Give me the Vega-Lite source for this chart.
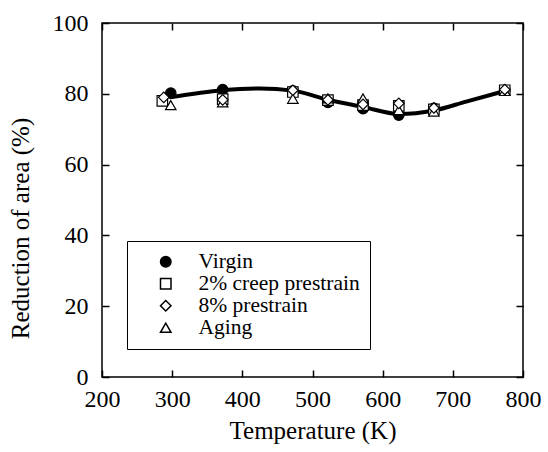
{
  "$schema": "https://vega.github.io/schema/vega-lite/v6.json",
  "width": 421,
  "height": 354,
  "autosize": "none",
  "padding": {"left": 102, "top": 23, "right": 25, "bottom": 75},
  "background": "white",
  "config": {
    "view": {"stroke": "black", "strokeWidth": 1.5},
    "font": "Liberation Serif",
    "axis": {
      "grid": false,
      "domain": false,
      "tickColor": "black",
      "tickSize": -7,
      "tickWidth": 1.5,
      "labelFlush": false,
      "labelFont": "Liberation Serif",
      "labelFontSize": 24,
      "labelColor": "black",
      "titleFont": "Liberation Serif",
      "titleFontSize": 25,
      "titleFontWeight": "normal",
      "titleColor": "black"
    },
    "legend": {
      "labelFont": "Liberation Serif",
      "labelFontSize": 21.5,
      "labelColor": "black",
      "labelLimit": 400
    }
  },
  "datasets": {
    "curve": [
      {"T": 297, "RA": 79.0},
      {"T": 372, "RA": 81.0},
      {"T": 425, "RA": 81.5},
      {"T": 472, "RA": 80.9},
      {"T": 522, "RA": 78.3},
      {"T": 572, "RA": 76.3},
      {"T": 623, "RA": 74.3},
      {"T": 673, "RA": 75.3},
      {"T": 719, "RA": 77.8},
      {"T": 774, "RA": 80.8}
    ],
    "points": [
      {"series": "Virgin", "T": 298, "RA": 80.2},
      {"series": "Virgin", "T": 372, "RA": 81.2},
      {"series": "Virgin", "T": 472, "RA": 80.8},
      {"series": "Virgin", "T": 522, "RA": 77.6},
      {"series": "Virgin", "T": 572, "RA": 75.8},
      {"series": "Virgin", "T": 623, "RA": 74.0},
      {"series": "Virgin", "T": 673, "RA": 75.9},
      {"series": "Virgin", "T": 774, "RA": 81.0},
      {"series": "2% creep prestrain", "T": 286, "RA": 78.0},
      {"series": "2% creep prestrain", "T": 372, "RA": 78.5},
      {"series": "2% creep prestrain", "T": 472, "RA": 80.5},
      {"series": "2% creep prestrain", "T": 522, "RA": 78.2},
      {"series": "2% creep prestrain", "T": 572, "RA": 76.8},
      {"series": "2% creep prestrain", "T": 623, "RA": 76.6},
      {"series": "2% creep prestrain", "T": 673, "RA": 75.6},
      {"series": "2% creep prestrain", "T": 774, "RA": 81.0},
      {"series": "Aging", "T": 298, "RA": 76.8},
      {"series": "Aging", "T": 372, "RA": 77.6},
      {"series": "Aging", "T": 472, "RA": 78.6},
      {"series": "Aging", "T": 522, "RA": 78.7},
      {"series": "Aging", "T": 572, "RA": 78.7},
      {"series": "Aging", "T": 623, "RA": 75.4},
      {"series": "Aging", "T": 673, "RA": 75.0},
      {"series": "Aging", "T": 774, "RA": 80.8},
      {"series": "8% prestrain", "T": 288, "RA": 79.0},
      {"series": "8% prestrain", "T": 372, "RA": 78.3},
      {"series": "8% prestrain", "T": 472, "RA": 81.0},
      {"series": "8% prestrain", "T": 522, "RA": 78.3},
      {"series": "8% prestrain", "T": 572, "RA": 77.0},
      {"series": "8% prestrain", "T": 623, "RA": 77.3},
      {"series": "8% prestrain", "T": 673, "RA": 76.0},
      {"series": "8% prestrain", "T": 774, "RA": 81.2}
    ]
  },
  "layer": [
    {
      "data": {"name": "curve"},
      "mark": {"type": "line", "interpolate": "monotone", "color": "black", "strokeWidth": 4},
      "encoding": {
        "x": {"field": "T", "type": "quantitative", "scale": {"domain": [200, 800], "nice": false},
              "axis": {"orient": "top", "labels": false, "title": null, "values": [200, 300, 400, 500, 600, 700, 800]}},
        "y": {"field": "RA", "type": "quantitative", "scale": {"domain": [0, 100], "nice": false},
              "axis": {"orient": "right", "labels": false, "title": null, "values": [0, 20, 40, 60, 80, 100]}}
      }
    },
    {
      "data": {"name": "points"},
      "mark": {"type": "point", "filled": true, "stroke": "black", "strokeWidth": 1.2, "size": 110, "opacity": 1},
      "encoding": {
        "x": {"field": "T", "type": "quantitative",
              "axis": {"orient": "bottom", "title": "Temperature (K)", "values": [200, 300, 400, 500, 600, 700, 800], "labelPadding": 17, "titleY": 61, "titleBaseline": "alphabetic"}},
        "y": {"field": "RA", "type": "quantitative",
              "axis": {"orient": "left", "title": "Reduction of area (%)", "values": [0, 20, 40, 60, 80, 100], "labelPadding": 21, "titleX": -69, "titleY": 205, "titleBaseline": "bottom"}},
        "shape": {"field": "series", "type": "nominal",
                  "scale": {"domain": ["Virgin", "2% creep prestrain", "8% prestrain", "Aging"], "range": ["circle", "square", "diamond", "triangle-up"]},
                  "legend": {"title": null, "orient": "none", "legendX": 25, "legendY": 218, "padding": 10, "strokeColor": "black", "fillColor": "white", "symbolOffset": 18, "labelOffset": 22, "rowPadding": -1.5, "symbolSize": 110,
                             "encode": {"symbols": {"update": {"stroke": {"value": "black"}, "strokeWidth": {"value": 1.2}}}}}},
        "fill": {"field": "series", "type": "nominal",
                 "scale": {"domain": ["Virgin", "2% creep prestrain", "8% prestrain", "Aging"], "range": ["black", "white", "white", "white"]},
                 "legend": {"title": null, "orient": "none", "legendX": 25, "legendY": 218, "padding": 10, "strokeColor": "black", "fillColor": "white", "symbolOffset": 18, "labelOffset": 22, "rowPadding": -1.5, "symbolSize": 110,
                            "encode": {"symbols": {"update": {"stroke": {"value": "black"}, "strokeWidth": {"value": 1.2}}}}}}
      }
    }
  ],
  "resolve": {"axis": {"x": "independent", "y": "independent"}}
}
